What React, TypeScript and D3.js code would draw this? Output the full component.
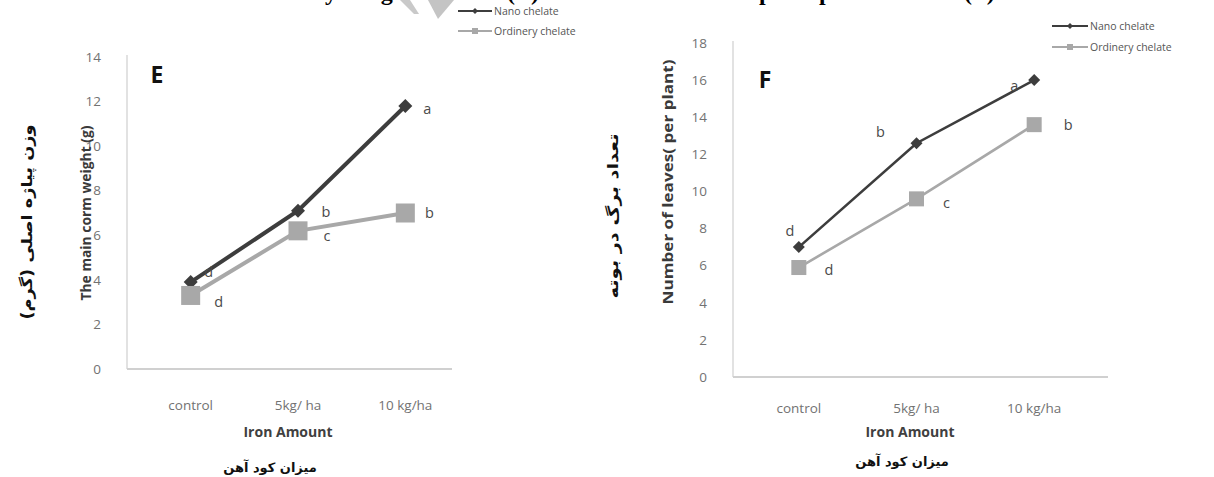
import React from 'react';
import * as d3 from 'd3';

// ---------- data ----------
const categories = ['control', '5kg/ ha', '10 kg/ha'];
const seriesNames = ['Nano chelate', 'Ordinery chelate'];

const cormNano = [3.9, 7.1, 11.8];
const cormOrdinary = [3.3, 6.2, 7.0];
const cormNanoLetters = ['d', 'b', 'a'];
const cormOrdinaryLetters = ['d', 'c', 'b'];
const cormTicks = [0, 2, 4, 6, 8, 10, 12, 14];

const leavesNano = [7.0, 12.6, 16.0];
const leavesOrdinary = [5.9, 9.6, 13.6];
const leavesNanoLetters = ['d', 'b', 'a'];
const leavesOrdinaryLetters = ['d', 'c', 'b'];
const leavesTicks = [0, 2, 4, 6, 8, 10, 12, 14, 16, 18];

const xTitle = 'Iron Amount';
const xTitleFa = 'میزان کود آهن';
const cormTitle = 'The main corm weight (g)';
const cormTitleFa = 'وزن پیاژه اصلی (گرم)';
const leavesTitle = 'Number of leaves( per plant)';
const leavesTitleFa = 'تعداد برگ در بوته';

// cropped caption fragments at the very top of the figure (only descenders visible)
const captionPieces = [
  { text: 'main corm dry', x: 337, anchor: 'end' },
  { text: 'weight', x: 346, anchor: 'start' },
  { text: 'by', x: 426, anchor: 'start' },
  { text: '(E)', x: 507, anchor: 'start' },
  { text: 'per', x: 759, anchor: 'start' },
  { text: 'plant', x: 819, anchor: 'start' },
  { text: '(F)', x: 964, anchor: 'start' },
];

// ---------- styles ----------
const NANO = '#3d3d3d';
const ORD = '#a8a8a8';
const TICK = '#727272';
const SANS = '"Open Sans", "Noto Sans", sans-serif';
const FA = '"DejaVu Sans", "Liberation Sans", sans-serif';

type Panel = {
  axisX: number; axisEnd: number; bandRange: [number, number];
  y0: number; yTop: number; yMax: number;
  ticks: number[]; nano: number[]; ord: number[];
  nanoLetters: string[]; ordLetters: string[];
  nanoOff: [number, number][]; ordOff: [number, number][];
  label: string; labelPos: [number, number];
  title: string; titlePos: [number, number]; titleLen: number;
  titleFa: string; titleFaPos: [number, number]; titleFaLen: number;
  xTitlePos: [number, number]; xTitleFaPos: [number, number];
  catY: number;
  legend: { lineX: number; textX: number; y1: number; y2: number };
  lineW: number; diamond: number; square: number;
};

const panels: Panel[] = [
  {
    axisX: 127, axisEnd: 452, bandRange: [137, 459], y0: 369, yTop: 57, yMax: 14, ticks: cormTicks,
    nano: cormNano, ord: cormOrdinary,
    nanoLetters: cormNanoLetters, ordLetters: cormOrdinaryLetters,
    nanoOff: [[18, -10], [28, 1], [22, 3]], ordOff: [[28, 6], [29, 5], [24, 0]],
    label: 'E', labelPos: [157, 83],
    title: cormTitle, titlePos: [86, 213], titleLen: 175,
    titleFa: cormTitleFa, titleFaPos: [27, 222], titleFaLen: 195,
    xTitlePos: [288, 437], xTitleFaPos: [270, 472], catY: 410,
    legend: { lineX: 458, textX: 494, y1: 11, y2: 31 },
    lineW: 4, diamond: 14, square: 19,
  },
  {
    axisX: 733, axisEnd: 1108, bandRange: [740, 1093], y0: 377, yTop: 43, yMax: 18, ticks: leavesTicks,
    nano: leavesNano, ord: leavesOrdinary,
    nanoOff: [[-9, -16], [-36, -11], [-20, 6]], ordOff: [[30, 2], [30, 4], [34, 0]],
    nanoLetters: leavesNanoLetters, ordLetters: leavesOrdinaryLetters,
    label: 'F', labelPos: [765, 88],
    title: leavesTitle, titlePos: [668, 182], titleLen: 245,
    titleFa: leavesTitleFa, titleFaPos: [613, 216], titleFaLen: 165,
    xTitlePos: [910, 437], xTitleFaPos: [902, 466], catY: 413,
    legend: { lineX: 1052, textX: 1090, y1: 26, y2: 47 },
    lineW: 2.6, diamond: 12, square: 15,
  },
];

function diamondPath(cx: number, cy: number, s: number) {
  const h = s / 2;
  return `M${cx},${cy - h}L${cx + h},${cy}L${cx},${cy + h}L${cx - h},${cy}Z`;
}

function ChartPanel({ p }: { p: Panel }) {
  const x = d3.scaleBand<string>().domain(categories).range(p.bandRange);
  const y = d3.scaleLinear().domain([0, p.yMax]).range([p.y0, p.yTop]);
  const cx = (c: string) => (x(c) as number) + x.bandwidth() / 2;
  const line = d3.line<number>().x((_, i) => cx(categories[i])).y((v) => y(v));

  return (
    <g>
      {/* axes */}
      <line x1={p.axisX} x2={p.axisX} y1={y(p.yMax) - 2} y2={p.y0} stroke="#d9d9d9" strokeWidth={1.5} />
      <line x1={p.axisX} x2={p.axisEnd} y1={p.y0} y2={p.y0} stroke="#d0d0d0" strokeWidth={2} />
      {p.ticks.map((t) => (
        <text key={t} x={p.axisX - 26} y={y(t)} dy="0.35em" textAnchor="end" fontFamily={SANS}
          fontSize={13.5} fill={TICK}>{t}</text>
      ))}
      {categories.map((c) => (
        <text key={c} x={cx(c)} y={p.catY} textAnchor="middle" fontFamily={SANS} fontSize={13.5} fill={TICK}>{c}</text>
      ))}

      {/* titles */}
      <text x={p.xTitlePos[0]} y={p.xTitlePos[1]} textAnchor="middle" fontFamily={SANS} fontWeight="bold"
        fontSize={14} fill="#404040">{xTitle}</text>
      <text x={p.xTitleFaPos[0]} y={p.xTitleFaPos[1]} textAnchor="middle" fontFamily={FA} fontWeight="bold"
        fontSize={13} fill="#111" direction="rtl">{xTitleFa}</text>
      <text transform={`translate(${p.titlePos[0]},${p.titlePos[1]}) rotate(-90)`} textAnchor="middle" dy="0.35em"
        fontFamily={SANS} fontWeight="bold" fontSize={13.5} fill="#3a3a3a"
        textLength={p.titleLen} lengthAdjust="spacingAndGlyphs">{p.title}</text>
      <text transform={`translate(${p.titleFaPos[0]},${p.titleFaPos[1]}) rotate(-90)`} textAnchor="middle" dy="0.35em"
        fontFamily={FA} fontWeight="bold" fontSize={15} fill="#111" direction="rtl"
        textLength={p.titleFaLen} lengthAdjust="spacingAndGlyphs">{p.titleFa}</text>
      <text x={p.labelPos[0]} y={p.labelPos[1]} textAnchor="middle" fontFamily={SANS} fontWeight="bold"
        fontSize={23} fill="#111">{p.label}</text>

      {/* series */}
      <path d={line(p.ord) || ''} fill="none" stroke={ORD} strokeWidth={p.lineW} />
      <path d={line(p.nano) || ''} fill="none" stroke={NANO} strokeWidth={p.lineW} />
      {p.nano.map((v, i) => (
        <path key={'n' + i} d={diamondPath(cx(categories[i]), y(v), p.diamond)} fill={NANO} />
      ))}
      {p.ord.map((v, i) => (
        <rect key={'o' + i} x={cx(categories[i]) - p.square / 2} y={y(v) - p.square / 2}
          width={p.square} height={p.square} fill={ORD} />
      ))}
      {p.nano.map((v, i) => (
        <text key={'nl' + i} x={cx(categories[i]) + p.nanoOff[i][0]} y={y(v) + p.nanoOff[i][1]} dy="0.35em"
          textAnchor="middle" fontFamily={SANS} fontSize={14.5} fill="#4a4a4a">{p.nanoLetters[i]}</text>
      ))}
      {p.ord.map((v, i) => (
        <text key={'ol' + i} x={cx(categories[i]) + p.ordOff[i][0]} y={y(v) + p.ordOff[i][1]} dy="0.35em"
          textAnchor="middle" fontFamily={SANS} fontSize={14.5} fill="#4a4a4a">{p.ordLetters[i]}</text>
      ))}

      {/* legend */}
      <g>
        <line x1={p.legend.lineX} x2={p.legend.textX - 2} y1={p.legend.y1} y2={p.legend.y1} stroke={NANO} strokeWidth={2.2} />
        <path d={diamondPath((p.legend.lineX + p.legend.textX - 2) / 2, p.legend.y1, 6)} fill={NANO} />
        <text x={p.legend.textX} y={p.legend.y1} dy="0.35em" fontFamily={SANS} fontSize={10.5} fill="#555">{seriesNames[0]}</text>
        <line x1={p.legend.lineX} x2={p.legend.textX - 2} y1={p.legend.y2} y2={p.legend.y2} stroke={ORD} strokeWidth={2.2} />
        <rect x={(p.legend.lineX + p.legend.textX - 2) / 2 - 3} y={p.legend.y2 - 3} width={6} height={6} fill={ORD} />
        <text x={p.legend.textX} y={p.legend.y2} dy="0.35em" fontFamily={SANS} fontSize={10.5} fill="#555">{seriesNames[1]}</text>
      </g>
    </g>
  );
}

export default function App() {
  return (
    <svg width={1214} height={477} style={{ position: 'absolute', left: 0, top: 0, background: '#fff' }}>
      <rect width={1214} height={477} fill="#fff" />
      {/* cropped caption at the top edge */}
      {captionPieces.map((c, i) => (
        <text key={i} x={c.x} y={0} textAnchor={c.anchor as any} fontFamily='"Liberation Serif", serif'
          fontWeight="bold" fontSize={24} fill="#000">{c.text}</text>
      ))}
      <polygon points="400,0 410,0 419,14 414,14" fill="#c9c9c9" />
      <polygon points="428,0 454,0 438,19" fill="#c4c4c4" />
      {panels.map((p, i) => <ChartPanel key={i} p={p} />)}
    </svg>
  );
}
